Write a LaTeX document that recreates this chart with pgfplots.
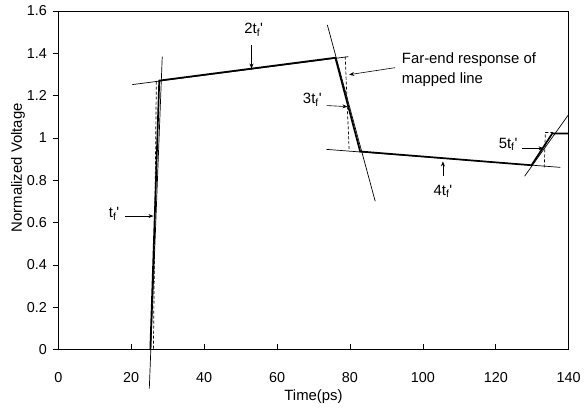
\documentclass[border=0pt]{standalone}
\usepackage{fontspec}
\setmainfont{Liberation Sans}
\usepackage{pgfplots}
\pgfplotsset{compat=1.18}
\usetikzlibrary{arrows.meta}
\newcommand{\tf}{t\textsubscript{f}\textquotesingle}
\begin{document}
\begin{tikzpicture}[font=\fontsize{15}{18}\selectfont]
\begin{axis}[
  scale only axis,
  width=512.5bp, height=340bp,
  xmin=0, xmax=140, ymin=0, ymax=1.6,
  xtick={0,20,...,140},
  ytick={0,0.2,...,1.6},
  xtick pos=bottom, ytick pos=left,
  tick align=inside,
  major tick length=5.5bp,
  ytick style={xshift=-5.5bp},
  tick style={black, line width=0.7bp},
  axis line style={line width=0.9bp},
  /pgf/number format/assume math mode=true,
  ticklabel style={font=\fontsize{14.5}{17}\selectfont},
  yticklabel style={xshift=-8bp},
  xticklabel style={yshift=-19bp},
  xlabel={Time(ps)},
  ylabel={Normalized Voltage},
  xlabel style={at={(axis description cs:0.5,-0.14)}, anchor=center},
  ylabel style={at={(axis description cs:-0.079,0.537)}, anchor=center},
  clip=false,
]
% thin tangent lines
\addplot[black, line width=0.7bp] coordinates {(24.97,-0.184) (28.52,1.384)};
\addplot[black, line width=0.7bp] coordinates {(20.3,1.252) (79.55,1.384)};
\addplot[black, line width=0.7bp] coordinates {(73.8,1.534) (86.93,0.701)};
\addplot[black, line width=0.7bp] coordinates {(73.55,0.946) (137.7,0.861)};
\addplot[black, line width=0.7bp] coordinates {(127.9,0.819) (140,1.111)};
% far-end response of mapped line
\addplot[black, line width=1.7bp] coordinates {
  (25.25,0) (27.7,1.271) (76.0,1.379) (82.8,0.936) (129.8,0.871) (135.5,1.021) (140,1.021)};
% dashed projections
\addplot[black, line width=0.7bp, dash pattern=on 3bp off 2bp] coordinates {(26.9,1.266) (26.1,0.005)};
\addplot[black, line width=0.7bp, dash pattern=on 3bp off 2bp] coordinates {(78.7,1.384) (79.8,0.936)};
\addplot[black, line width=0.7bp, dash pattern=on 3bp off 2bp] coordinates {(133.3,0.861) (133.6,1.026) (135.7,1.026)};
% labels
\node at (axis cs:53.6,1.51) {2\tf};
\draw[-{Stealth[length=5bp,width=4bp]}, line width=0.6bp] (axis cs:53.0,1.44) -- (axis cs:53.0,1.328);
\node[anchor=west, align=left, font=\fontsize{15}{20}\selectfont] at (axis cs:93.3,1.322) {Far-end response of\\mapped line};
\draw[-{Stealth[length=5bp,width=4bp]}, line width=0.6bp] (axis cs:92.4,1.332) -- (axis cs:79.8,1.299);
\node[anchor=east] at (axis cs:73.2,1.181) {3\tf};
\draw[-{Stealth[length=5bp,width=4bp]}, line width=0.6bp] (axis cs:73.6,1.153) -- (axis cs:79.3,1.148);
\node at (axis cs:105.5,0.748) {4\tf};
\draw[-{Stealth[length=5bp,width=4bp]}, line width=0.6bp] (axis cs:105.5,0.819) -- (axis cs:105.5,0.889);
\node[anchor=east] at (axis cs:126.9,0.969) {5\tf};
\draw[-{Stealth[length=5bp,width=4bp]}, line width=0.6bp] (axis cs:127.3,0.951) -- (axis cs:133.1,0.951);
\node[anchor=east] at (axis cs:17.7,0.64) {\tf};
\draw[-{Stealth[length=5bp,width=4bp]}, line width=0.6bp] (axis cs:18.4,0.631) -- (axis cs:26.1,0.631);
\end{axis}
\path ([xshift=-58.5bp,yshift=-66bp]current axis.south west) rectangle ([xshift=13bp,yshift=11bp]current axis.north east);
\end{tikzpicture}
\end{document}
